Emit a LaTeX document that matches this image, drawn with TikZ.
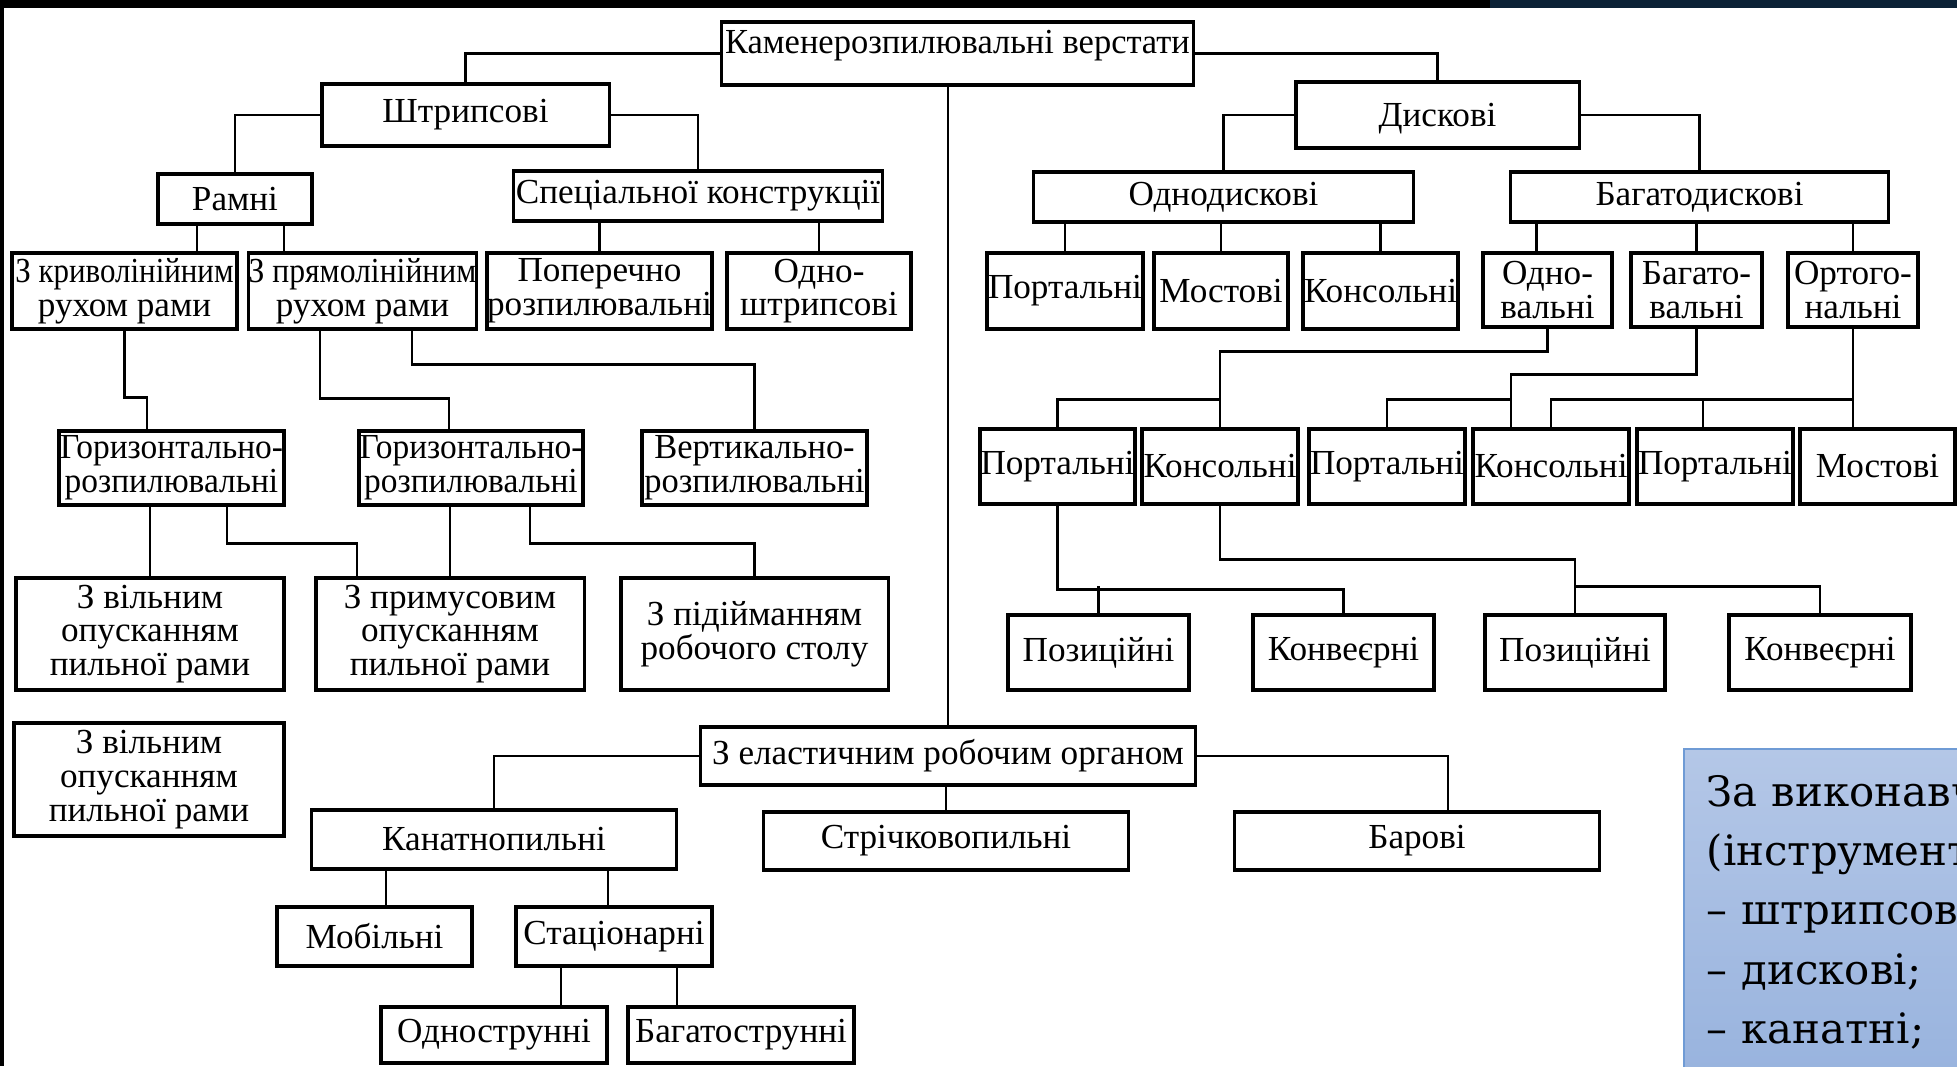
\documentclass[tikz,border=0pt]{standalone}
\usepackage{graphicx}
\usepackage{fontspec}
\setmainfont{Liberation Serif}
\newfontfamily\notefont{DejaVu Serif}
\usetikzlibrary{chains}
\usetikzlibrary{positioning}
\definecolor{navyband}{HTML}{0B2236}
\definecolor{notetop}{HTML}{B4C7E7}
\definecolor{notebottom}{HTML}{98B3DE}
\definecolor{noteedge}{HTML}{6F9BD5}
\newcommand{\squeeze}[2]{\scalebox{#1}[1]{#2}}

\begin{document}
\begin{tikzpicture}[x=0.01cm, y=-0.01cm]
      \tikzstyle{box}=[draw, rectangle, line width=0.9pt, inner sep=0pt, align=center, font=\fontsize{10}{9.6}\selectfont]
      \tikzstyle{tall}=[box, minimum height=0.76cm]
      \tikzstyle{link}=[line width=0.8pt]
      \tikzstyle{noteline}=[inner sep=0pt, text width=6cm, align=left, text height=0.42cm, text depth=0.16cm, font=\notefont\fontsize{11.9}{11.9}\selectfont]

      \useasboundingbox (0,0) rectangle (1957,1066);

      % slide frame
      \fill[black] (0,0) rectangle (1490,8);
      \fill[navyband] (1490,0) rectangle (1957,8);
      \fill[black] (0,0) rectangle (4,1066);

      \node[box, minimum width=4.71cm, minimum height=0.63cm, text depth=0.23cm] (root) at (957.5,53.5) {\squeeze{0.98}{Каменерозпилювальні верстати}};

      % strip saws
      \node[box, minimum width=2.87cm, minimum height=0.62cm] (shtr) at (465.5,115) {Штрипсові};
      \node[box, minimum width=1.54cm, minimum height=0.50cm] (ramni) at (235,199) {Рамні};
      \node[box, minimum width=3.68cm, minimum height=0.50cm] (spec) at (698,196) {Спеціальної конструкції};
      \node[tall, minimum width=2.25cm] (kryv) at (124.5,291) {\squeeze{0.88}{З криволінійним}\\рухом рами};
      \node[tall, minimum width=2.23cm] (pryam) at (362.5,291) {\squeeze{0.90}{З прямолінійним}\\рухом рами};
      \node[tall, minimum width=2.25cm] (poper) at (599.5,291) {Поперечно\\розпилювальні};
      \node[tall, minimum width=1.84cm] (odnoshtr) at (819,291) {Одно-\\штрипсові};
      \node[box, minimum width=2.25cm, minimum height=0.74cm] (gor1) at (171.5,468) {\squeeze{0.95}{Горизонтально-}\\\squeeze{0.95}{розпилювальні}};
      \node[box, minimum width=2.24cm, minimum height=0.74cm] (gor2) at (471,468) {\squeeze{0.95}{Горизонтально-}\\\squeeze{0.95}{розпилювальні}};
      \node[box, minimum width=2.25cm, minimum height=0.74cm] (vert) at (754.5,468) {\squeeze{0.98}{Вертикально-}\\\squeeze{0.98}{розпилювальні}};
      \node[box, minimum width=2.68cm, minimum height=1.12cm] (vil1) at (150,634) {З вільним\\опусканням\\пильної рами};
      \node[box, minimum width=2.68cm, minimum height=1.12cm] (prim) at (450,634) {З примусовим\\опусканням\\пильної рами};
      \node[box, minimum width=2.67cm, minimum height=1.12cm] (pidiy) at (754.5,634) {З підійманням\\робочого столу};
      \node[box, minimum width=2.70cm, minimum height=1.13cm] (vil2) at (149,779.5) {З вільним\\опусканням\\пильної рами};

      % disc saws
      \node[box, minimum width=2.83cm, minimum height=0.66cm, text depth=0cm] (disk) at (1437.5,115) {Дискові};
      \node[box, minimum width=3.79cm, minimum height=0.50cm] (odnod) at (1223.5,197) {Однодискові};
      \node[box, minimum width=3.77cm, minimum height=0.50cm] (bagd) at (1699.5,197) {Багатодискові};
      \node[tall, minimum width=1.56cm] (port1) at (1065,291) {Портальні};
      \node[tall, minimum width=1.34cm] (most1) at (1221,291) {Мостові};
      \node[tall, minimum width=1.55cm] (kons1) at (1380.5,291) {Консольні};
      \node[box, minimum width=1.29cm, minimum height=0.74cm] (odnov) at (1547.5,290) {Одно-\\вальні};
      \node[box, minimum width=1.31cm, minimum height=0.74cm] (bagv) at (1696.5,290) {Багато-\\вальні};
      \node[box, minimum width=1.30cm, minimum height=0.74cm] (orto) at (1853,290) {Ортого-\\нальні};
      \node[box, minimum width=1.55cm, minimum height=0.75cm] (port2) at (1057.5,466.5) {Портальні};
      \node[box, minimum width=1.56cm, minimum height=0.75cm] (kons2) at (1220,466.5) {Консольні};
      \node[box, minimum width=1.56cm, minimum height=0.75cm] (port3) at (1387,466.5) {Портальні};
      \node[box, minimum width=1.56cm, minimum height=0.75cm] (kons3) at (1551,466.5) {Консольні};
      \node[box, minimum width=1.56cm, minimum height=0.75cm] (port4) at (1715,466.5) {Портальні};
      \node[box, minimum width=1.55cm, minimum height=0.75cm] (most2) at (1877.5,466.5) {Мостові};
      \node[box, minimum width=1.81cm, minimum height=0.75cm] (poz1) at (1098.5,652.5) {Позиційні};
      \node[box, minimum width=1.81cm, minimum height=0.75cm] (konv1) at (1343.5,652.5) {Конвеєрні};
      \node[box, minimum width=1.80cm, minimum height=0.75cm] (poz2) at (1575,652.5) {Позиційні};
      \node[box, minimum width=1.82cm, minimum height=0.75cm] (konv2) at (1820,652.5) {Конвеєрні};

      % flexible tool
      \node[box, minimum width=4.94cm, minimum height=0.58cm] (elast) at (948,756) {З еластичним робочим органом};
      \node[box, minimum width=3.64cm, minimum height=0.59cm] (kanat) at (494,839.5) {Канатнопильні};
      \node[box, minimum width=3.64cm, minimum height=0.58cm] (strich) at (946,841) {Стрічковопильні};
      \node[box, minimum width=3.64cm, minimum height=0.58cm] (bar) at (1417,841) {Барові};
      \node[box, minimum width=1.95cm, minimum height=0.59cm] (mob) at (374.5,936.5) {Мобільні};
      \node[box, minimum width=1.96cm, minimum height=0.59cm] (stac) at (614,936.5) {Стаціонарні};
      \node[box, minimum width=2.26cm, minimum height=0.56cm] (odnostr) at (494,1035) {Однострунні};
      \node[box, minimum width=2.26cm, minimum height=0.56cm] (bagstr) at (741,1035) {Багатострунні};

      % top level
      \draw[link] (root.west) -| (shtr.north);
      \draw[link] (root.east) -| (disk.north);
      \draw[link] (elast.north) -- (elast.north |- root.south);

      % strip saws links
      \draw[link] (shtr.west) -| (ramni.north);
      \draw[link] (shtr.east) -| (spec.north);
      \draw[link] ([xshift=-0.38cm]ramni.south) -- ([xshift=-0.38cm]ramni.south |- kryv.north);
      \draw[link] ([xshift=0.49cm]ramni.south) -- ([xshift=0.49cm]ramni.south |- pryam.north);
      \draw[link] (poper.north) -- (poper.north |- spec.south);
      \draw[link] (odnoshtr.north) -- (odnoshtr.north |- spec.south);
      \draw[link] (kryv.south) -- ++(0,67) -| ([xshift=-0.245cm]gor1.north);
      \draw[link] ([xshift=-0.425cm]pryam.south) -- ++(0,68) -| ([xshift=-0.22cm]gor2.north);
      \draw[link] ([xshift=0.495cm]pryam.south) -- ++(0,34) -| (vert.north);
      \draw[link] (vil1.north) -- (vil1.north |- gor1.south);
      \draw[link] ([xshift=0.555cm]gor1.south) -- ++(0,37) -| ([xshift=-0.93cm]prim.north);
      \draw[link] (prim.north) -- (prim.north |- gor2.south);
      \draw[link] ([xshift=0.59cm]gor2.south) -- ++(0,37) -| (pidiy.north);

      % disc saws links
      \draw[link] (disk.west) -| (odnod.north);
      \draw[link] (disk.east) -| (bagd.north);
      \foreach \n in {port1, most1, kons1}
        \draw[link] (\n.north) -- (\n.north |- odnod.south);
      \draw[link] ([xshift=-0.11cm]odnov.north) -- ([xshift=-0.11cm]odnov.north |- bagd.south);
      \foreach \n in {bagv, orto}
        \draw[link] (\n.north) -- (\n.north |- bagd.south);
      \draw[link] (odnov.south) -- ++(0,23) -| (kons2.north);
      \draw[link] (kons2.north) ++(0,-28) -| (port2.north);
      \draw[link] (bagv.south) -- ++(0,46) -| ([xshift=-0.40cm]kons3.north);
      \draw[link] ([xshift=-0.40cm]kons3.north) ++(0,-28) -| (port3.north);
      \draw[link] (orto.south) -- (orto.south |- most2.north);
      \draw[link] (kons3.north) -- ++(0,-28) -| (orto.south);
      \draw[link] ([xshift=-0.12cm]port4.north) -- ++(0,-28);
      \draw[link] (port2.south) -- ++(0,84) -| (konv1.north);
      \draw[link] (poz1.north) -- ++(0,-27);
      \draw[link] (kons2.south) -- ++(0,54) -| (poz2.north);
      \draw[link] (poz2.north) ++(0,-27) -| (konv2.north);

      % flexible tool links
      \draw[link] (elast.west) -| (kanat.north);
      \draw[link] (strich.north) -- (strich.north |- elast.south);
      \draw[link] (elast.east) -| ([xshift=0.31cm]bar.north);
      \draw[link] ([xshift=0.115cm]mob.north) -- ([xshift=0.115cm]mob.north |- kanat.south);
      \draw[link] ([xshift=-0.06cm]stac.north) -- ([xshift=-0.06cm]stac.north |- kanat.south);
      \draw[link] ([xshift=0.67cm]odnostr.north) -- ([xshift=0.67cm]odnostr.north |- stac.south);
      \draw[link] ([xshift=-0.64cm]bagstr.north) -- ([xshift=-0.64cm]bagstr.north |- stac.south);

      % note box, cut by the slide edge
      \begin{scope}
        \clip (0,0) rectangle (1957,1066);
        \shade[top color=notetop, bottom color=notebottom] (1684,749) rectangle (1970,1080);
        \draw[noteedge, line width=0.6pt] (1684,1080) -- (1684,749) -- (1970,749);
        \begin{scope}[start chain=note going below, node distance=0pt]
          \node[on chain=note, noteline] (note1) at (2007,793) {За виконавчим};
          \node[on chain=note, noteline] (note2) {(інструментом):};
          \node[on chain=note, noteline] (note3) {– штрипсові;};
          \node[on chain=note, noteline] (note4) {– дискові;};
          \node[on chain=note, noteline] (note5) {– канатні;};
          \node[on chain=note, noteline] (note6) {– стрічкові;};
        \end{scope}
      \end{scope}
\end{tikzpicture}
\end{document}
